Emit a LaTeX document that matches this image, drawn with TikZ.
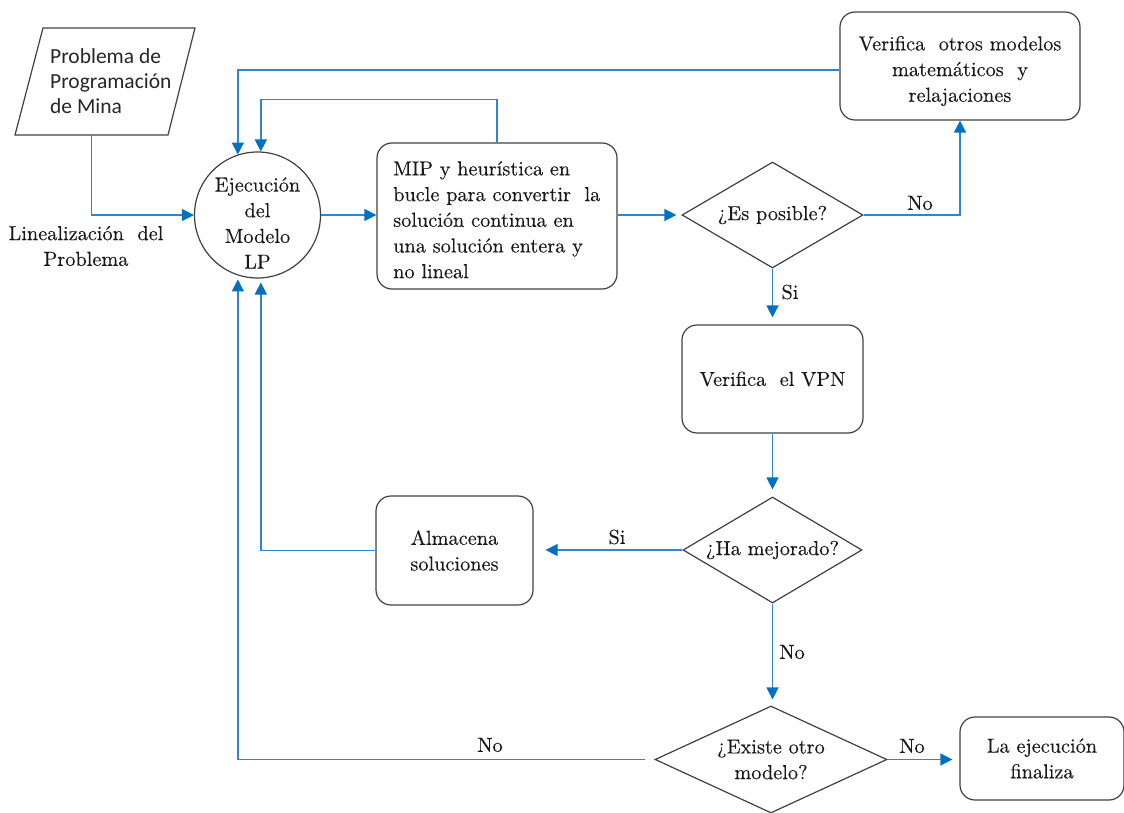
\documentclass[tikz,border=0pt]{standalone}
\usepackage{fontspec}
\newfontfamily\flowserif{lmroman10-regular.otf}[FakeBold=0.2]
\newfontfamily\paragramfont{Carlito}
\usetikzlibrary{arrows.meta,shapes.geometric}
\definecolor{flowblue}{RGB}{52,132,205}
\definecolor{tipblue}{RGB}{0,112,192}
\definecolor{boxedge}{RGB}{64,64,64}
\begin{document}
\begin{tikzpicture}[x=1pt,y=-1pt,
  every node/.style={font=\flowserif\fontsize{20.3}{25.7}\selectfont, text=black!90},
  procbox/.style={draw=boxedge, line width=1.2pt, rounded corners=15pt, inner sep=0pt, align=center},
  decision/.style={draw=boxedge, line width=1.2pt, diamond, inner sep=0pt, align=center},
  flow/.style={draw=flowblue, line width=1.4pt, -{Triangle[length=12pt,width=12pt,color=tipblue]}},
  lbl/.style={inner sep=0pt}]
\useasboundingbox (0,0) rectangle (1124,813);

% input: mine scheduling problem
\draw[boxedge, line width=1.2pt] (43,28) -- (195,28) -- (168,135) -- (15,135) -- cycle;
\coordinate (probbot) at (91.5,135);
\node[anchor=north west, inner sep=0pt, align=left, text=black!85,
      font=\paragramfont\fontsize{21.5}{25.3}\selectfont] (prob) at (50,48)
      {Problema de\\Programación\\de Mina};
\node[lbl, align=center] (lin) at (86,246) {Linealización~ del\\Problema};

% LP model run
\node[circle, draw=boxedge, line width=1.2pt, minimum size=126pt, inner sep=0pt] (circ) at (257.5,215) {};
\node[lbl, align=center] (circtxt) at (257.5,223) {Ejecución\\del\\Modelo\\LP};

% MIP + heuristic loop
\node[procbox, minimum width=240pt, minimum height=146pt] (mip) at (497,216) {};
\node[lbl, anchor=north west, align=left] (miptxt) at (393,161)
  {MIP y heurística en\\bucle para convertir~ la\\solución continua en\\una solución entera y\\no lineal};

% other models
\node[procbox, minimum width=240pt, minimum height=108pt] (verif) at (960,66) {};
\node[lbl, align=center] (veriftxt) at (960,71) {Verifica~ otros modelos\\matemáticos~ y\\relajaciones};

% decisions and steps
\node[decision, minimum width=181pt, minimum height=106pt, aspect=1.7] (d1) at (772.5,215) {¿Es posible?};
\node[procbox, minimum width=181pt, minimum height=108pt] (vpn) at (772.5,379) {Verifica~ el VPN};
\node[decision, minimum width=179pt, minimum height=106pt, aspect=1.7] (d2) at (772.5,550) {¿Ha mejorado?};
\node[procbox, minimum width=157pt, minimum height=109pt] (alm) at (454.5,550.5) {Almacena\\soluciones};
\node[decision, minimum width=232pt, minimum height=107pt, aspect=2.17] (d3) at (771,759.5) {¿Existe otro\\modelo?};
\node[procbox, minimum width=164pt, minimum height=83pt] (fin) at (1042,758.5) {La ejecución\\finaliza};

% connectors
\draw[flow] (probbot) |- (circ.west);
\draw[flow] (circ.east) -- (circ.east -| mip.west);
\draw[flow, shorten >=5pt] (mip.east |- d1) -- (d1.west);
\draw[flow] (d1.east) -| (verif.south);
\draw[flow] ([yshift=-4pt]verif.west) -| (circ.108);
\draw[flow] (mip.north) -- ++(0,-43) -| (circ.87);
\draw[flow, shorten >=7pt] (d1.south) -- (vpn.north);
\draw[flow, shorten >=7pt] (vpn.south) -- (d2.north);
\draw[flow, shorten >=12pt] (d2.west) -- (d2.west -| alm.east);
\draw[flow, shorten >=4pt] (alm.west) -| (circ.273);
\draw[flow, shorten >=6pt] (d2.south) -- (d2.south |- d3.north);
\draw[flow, shorten <=9pt, shorten >=4pt] (d3.west) -| (circ.252);
\draw[flow, shorten >=7pt] (d3.east) -- (d3.east -| fin.west);

% branch labels
\node[lbl] (lno1) at (920,203) {No};
\node[lbl] (lsi1) at (790,292) {Si};
\node[lbl] (lsi2) at (617,537) {Si};
\node[lbl] (lno2) at (792,652) {No};
\node[lbl] (lno3) at (912,746) {No};
\node[lbl] (lno4) at (490,745) {No};
\end{tikzpicture}
\end{document}
